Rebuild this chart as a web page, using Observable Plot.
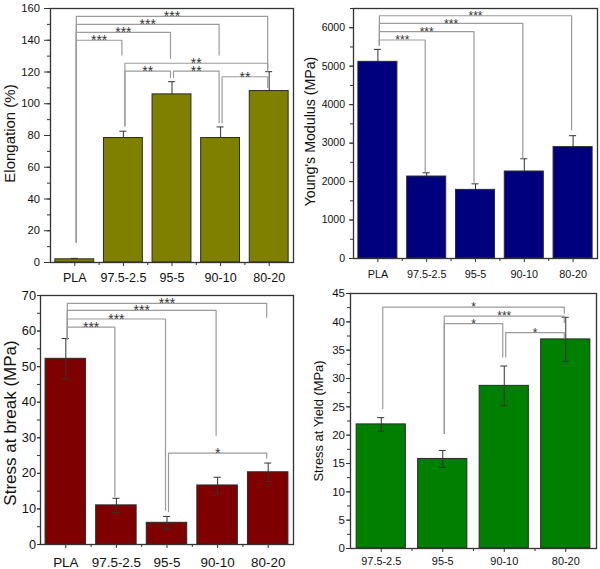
<!DOCTYPE html>
<html>
<head>
<meta charset="utf-8">
<script src="https://cdn.jsdelivr.net/npm/d3@7"></script>
<script src="https://cdn.jsdelivr.net/npm/@observablehq/plot@0.6"></script>
<style>
  html, body { margin: 0; padding: 0; background: #fff; }
  #root { position: relative; width: 600px; height: 569px; background: #fff; overflow: hidden; }
  .panel { position: absolute; }
</style>
</head>
<body>
<div id="root"></div>
<script>
// ---------- data ----------
const catsFive = ["PLA", "97.5-2.5", "95-5", "90-10", "80-20"];
const catsFour = ["97.5-2.5", "95-5", "90-10", "80-20"];

const elongation = [2.0, 78.4, 105.9, 78.4, 108.0];
const elongationErr = [0.6, 4.3, 8.0, 7.0, 12.2];

const modulus = [5113, 2131, 1784, 2262, 2896];
const modulusErr = [324, 97, 157, 331, 297];

const stressBreak = [52.2, 11.0, 6.1, 16.6, 20.3];
const stressBreakErr = [5.7, 2.0, 1.8, 2.3, 2.6];

const stressYield = [21.9, 15.8, 28.7, 36.9];
const stressYieldErr = [1.2, 1.5, 3.5, 3.9];

const elongationTicks = [0, 20, 40, 60, 80, 100, 120, 140, 160];
const modulusTicks = [0, 1000, 2000, 3000, 4000, 5000, 6000];
const stressBreakTicks = [0, 10, 20, 30, 40, 50, 60, 70];
const stressYieldTicks = [0, 5, 10, 15, 20, 25, 30, 35, 40, 45];

// significance brackets: [from, to, bracket level, from-leg end, to-leg end, label]
const elongationBrackets = [
  ["PLA", "97.5-2.5", 140, 12.6, 130.7, "***"],
  ["PLA", "95-5", 145, 12.6, 128.6, "***"],
  ["PLA", "90-10", 150, 12.6, 130.7, "***"],
  ["PLA", "80-20", 155, 12.6, 120.6, "***"],
  ["97.5-2.5", "80-20", 125.5, 86.5, 122.5, "**"],
  ["97.5-2.5", "95-5", 120.6, 85.8, 116.6, "**"],
  ["95-5", "90-10", 120.6, 116.6, 88, "**"],
  ["90-10", "80-20", 117, 88, 110.3, "**"]
];
const modulusBrackets = [
  ["PLA", "97.5-2.5", 5681, 5551, 2265, "***"],
  ["PLA", "95-5", 5897, 5551, 1980, "***"],
  ["PLA", "90-10", 6113, 5551, 2612, "***"],
  ["PLA", "80-20", 6312, 5551, 3346, "***"]
];
const stressBreakBrackets = [
  ["PLA", "97.5-2.5", 61.1, 57.8, 13.5, "***"],
  ["PLA", "95-5", 63.4, 57.8, 9.6, "***"],
  ["PLA", "90-10", 65.8, 57.8, 30.7, "***"],
  ["PLA", "80-20", 67.8, 57.8, 63.9, "***"],
  ["95-5", "80-20", 25.7, 9.2, 24.3, "*"]
];
const stressYieldBrackets = [
  ["97.5-2.5", "80-20", 42.6, 24.7, 41.5, "*"],
  ["95-5", "80-20", 41.0, 20.3, 39.9, "***"],
  ["95-5", "90-10", 39.7, 20.3, 33.8, "*"],
  ["90-10", "80-20", 38.1, 33.8, 37.2, "*"]
];

// ---------- drawing ----------
const FONT = "'Liberation Sans', Arial, Helvetica, sans-serif";

function panel(cfg, lay) {
  const {cats, vals, errs, yDomain, yTicks, minorStep, brackets, fill, label} = cfg;
  const n = cats.length;
  const stepPx = (lay.width - lay.ml - lay.mr) / n;
  const gap = 1.5 / stepPx;
  const cap = 3.5 / stepPx;
  const rows = cats.map((c, i) => ({i, c, v: vals[i], e: errs[i]}));
  const br = brackets.map(([a, b, top, fe, te, lab], k) => ({
    k, a: cats.indexOf(a), b: cats.indexOf(b), top, fe, te, lab
  }));
  const pts = br.flatMap(d => [
    {k: d.k, x: d.a + gap, y: d.fe},
    {k: d.k, x: d.a + gap, y: d.top},
    {k: d.k, x: d.b - gap, y: d.top},
    {k: d.k, x: d.b - gap, y: d.te}
  ]);
  const minor = d3.range(yDomain[0], yDomain[1] + 1e-9, minorStep);

  const errMarks = [
    Plot.link(rows, {x1: "i", x2: "i", y1: d => d.v - d.e, y2: d => d.v + d.e, stroke: "#333", strokeWidth: 1}),
    Plot.ruleY(rows, {y: d => d.v + d.e, x1: d => d.i - cap, x2: d => d.i + cap, stroke: "#333", strokeWidth: 1}),
    Plot.ruleY(rows, {y: d => d.v - d.e, x1: d => d.i - cap, x2: d => d.i + cap, stroke: "#333", strokeWidth: 1})
  ];
  const barMark = Plot.rect(rows, {
    x1: d => d.i - 0.4, x2: d => d.i + 0.4, y1: 0, y2: "v",
    fill, stroke: "#2a2a2a", strokeWidth: 1
  });

  const marks = [
    ...(lay.errBehind ? [...errMarks, barMark] : [barMark, ...errMarks]),
    Plot.line(pts, {x: "x", y: "y", z: "k", stroke: "#9b9b9b", strokeWidth: 1.2, curve: "linear"}),
    Plot.text(br, {
      x: d => (d.a + d.b) / 2, y: "top", text: "lab",
      lineAnchor: "bottom", dy: lay.starDy, fontSize: lay.starFont, fill: "#333"
    }),
    Plot.axisY(yTicks, {tickSize: lay.yTickSize, tickPadding: lay.yTickPad, fontSize: lay.yFont,
      tickFormat: d => String(d), stroke: "#333", fill: "#111", label: null}),
    Plot.axisY(minor, {tickSize: 3, text: null, stroke: "#333", label: null}),
    Plot.axisX(d3.range(n), {tickFormat: i => cats[i], tickSize: 4, tickPadding: lay.xTickPad, fontSize: lay.xFont, stroke: "#333", fill: "#111", label: null}),
    Plot.axisX(d3.range(n - 1).map(i => i + 0.5), {tickSize: 3, text: null, stroke: "#333", label: null}),
    Plot.frame({stroke: "#333", strokeWidth: 1.3}),
    Plot.text([label], {
      text: d => d, frameAnchor: "left", textAnchor: "middle", lineAnchor: "middle", rotate: -90,
      dx: lay.labelDx, dy: lay.labelDy, fontSize: lay.labelFont, fill: "#111"
    })
  ];

  const svg = Plot.plot({
    width: lay.width, height: lay.height,
    marginLeft: lay.ml, marginRight: lay.mr, marginTop: lay.mt, marginBottom: lay.mb,
    x: {domain: [-0.5, n - 0.5]},
    y: {domain: yDomain},
    style: {fontFamily: FONT, background: "transparent", overflow: "visible"},
    marks
  });
  const div = document.createElement("div");
  div.className = "panel";
  div.style.left = lay.left + "px";
  div.style.top = lay.top + "px";
  div.appendChild(svg);
  document.getElementById("root").appendChild(div);
}

panel(
  {cats: catsFive, vals: elongation, errs: elongationErr, yDomain: [0, 160], yTicks: elongationTicks, minorStep: 10,
   brackets: elongationBrackets, fill: "#7f7f00", label: "Elongation (%)"},
  {left: 0, top: 0, width: 300, height: 285, ml: 50, mr: 7, mt: 8, mb: 23,
   xFont: 12.5, yFont: 11.2, labelFont: 15, labelDx: -40.5, labelDy: -2,
   starFont: 14, starDy: 5, yTickSize: 6, yTickPad: 4.5, xTickPad: 7, errBehind: true}
);

panel(
  {cats: catsFive, vals: modulus, errs: modulusErr, yDomain: [0, 6500], yTicks: modulusTicks, minorStep: 500,
   brackets: modulusBrackets, fill: "#00007f", label: "Young's Modulus (MPa)"},
  {left: 300, top: 0, width: 300, height: 285, ml: 53, mr: 3, mt: 8, mb: 27,
   xFont: 10.8, yFont: 10.5, labelFont: 14.2, labelDx: -43, labelDy: -2,
   starFont: 12, starDy: 4.3, yTickSize: 4, yTickPad: 4.5, xTickPad: 7.5, errBehind: true}
);

panel(
  {cats: catsFive, vals: stressBreak, errs: stressBreakErr, yDomain: [0, 70], yTicks: stressBreakTicks, minorStep: 5,
   brackets: stressBreakBrackets, fill: "#7f0000", label: "Stress at break (MPa)"},
  {left: 0, top: 285, width: 300, height: 284, ml: 40, mr: 7, mt: 10, mb: 25,
   xFont: 13.4, yFont: 12.8, labelFont: 17, labelDx: -30, labelDy: 3,
   starFont: 14, starDy: 5, yTickSize: 3, yTickPad: 1.5, xTickPad: 8.5, errBehind: false}
);

panel(
  {cats: catsFour, vals: stressYield, errs: stressYieldErr, yDomain: [0, 45], yTicks: stressYieldTicks, minorStep: 2.5,
   brackets: stressYieldBrackets, fill: "#007f00", label: "Stress at Yield (MPa)"},
  {left: 300, top: 285, width: 300, height: 284, ml: 50, mr: 4, mt: 8, mb: 21,
   xFont: 10.9, yFont: 11.5, labelFont: 12.9, labelDx: -32, labelDy: 0,
   starFont: 12, starDy: 4.3, yTickSize: 4, yTickPad: 1.5, xTickPad: 4.8, errBehind: false}
);
</script>
</body>
</html>
